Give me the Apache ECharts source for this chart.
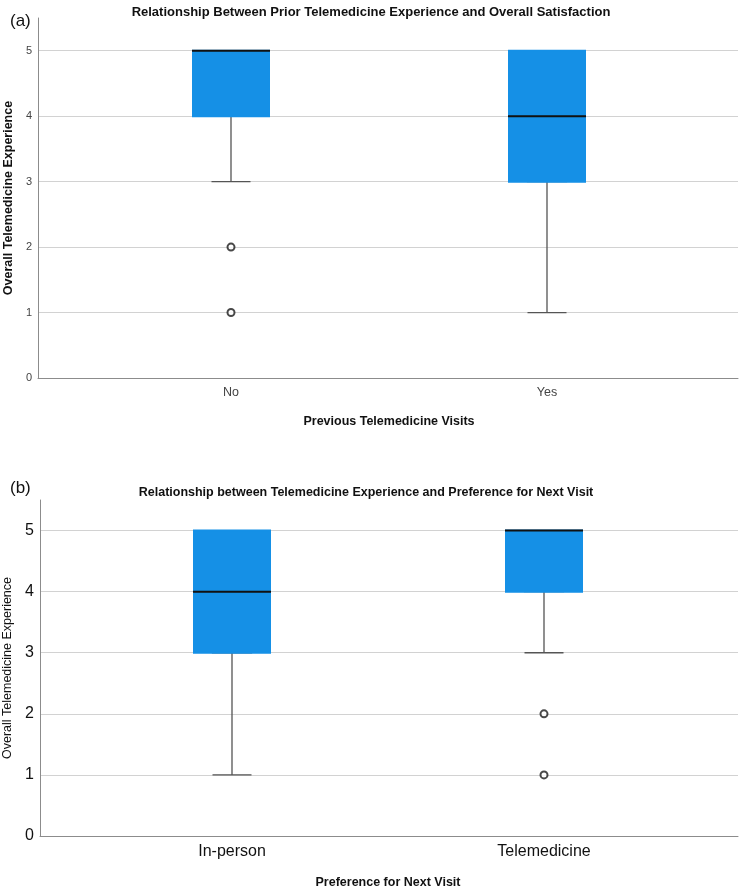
<!DOCTYPE html>
<html>
<head>
<meta charset="utf-8">
<script src="https://cdn.jsdelivr.net/npm/echarts@6/dist/echarts.min.js"></script>
<style>
html,body{margin:0;padding:0;background:#fff;}
#chart{width:740px;height:893px;}
</style>
</head>
<body>
<div id="chart"></div>
<script>
// ---- Data ----
const titleA = 'Relationship Between Prior Telemedicine Experience and Overall Satisfaction';
const titleB = 'Relationship between Telemedicine Experience and Preference for Next Visit';
const yName = 'Overall Telemedicine Experience';
const xNameA = 'Previous Telemedicine Visits';
const xNameB = 'Preference for Next Visit';
const catsA = ['No', 'Yes'];
const catsB = ['In-person', 'Telemedicine'];
// [min, Q1, median, Q3, max]
const boxA = [[3, 4, 5, 5, 5], [1, 3, 4, 5, 5]];
const boxB = [[1, 3, 4, 5, 5], [3, 4, 5, 5, 5]];
const outA = [['No', 2], ['No', 1]];
const outB = [['Telemedicine', 2], ['Telemedicine', 1]];
const yMin = 0, yMax = 5.5, yStep = 1;

const FONT = 'Liberation Sans, Arial, sans-serif';
const BLUE = '#1590e6';

const boxLayer = d => d.map(v => [v[1], v[1], v[2], v[3], v[3]]);
const medLayer = d => d.map(v => [v[2], v[2], v[2], v[2], v[2]]);

function panel(base, gridFrame, gridBox, cats, box, out, st) {
  const grids = [gridFrame, gridBox].map(g => Object.assign({ outerBoundsMode: 'none', containLabel: false }, g));
  const gF = base * 2, gB = base * 2 + 1;
  const xAxes = [
    { gridIndex: gF, type: 'value', min: 0, max: 1, axisLine: { show: true, onZero: false, lineStyle: { color: '#8c8c8c', width: 1 } },
      axisTick: { show: false }, axisLabel: { show: false }, splitLine: { show: false } },
    { gridIndex: gB, type: 'category', data: cats, boundaryGap: true, position: 'bottom',
      axisLine: { show: false }, axisTick: { show: false },
      axisLabel: { fontFamily: FONT, fontSize: st.xLabelSize, color: st.xLabelColor, margin: st.xLabelMargin },
      name: st.xName, nameLocation: 'middle', nameGap: st.xNameGap,
      nameTextStyle: { fontFamily: FONT, fontSize: st.xNameSize, fontWeight: st.xNameWeight, color: '#111' } },
    { gridIndex: gB, type: 'category', data: cats, boundaryGap: true, show: false },
    { gridIndex: gB, type: 'category', data: cats, boundaryGap: true, show: false }
  ];
  const yAxes = [
    { gridIndex: gF, type: 'value', min: yMin, max: yMax, interval: yStep,
      axisLine: { show: true, lineStyle: { color: '#8c8c8c', width: 1 } }, axisTick: { show: false },
      axisLabel: { fontFamily: FONT, fontSize: st.yLabelSize, color: st.yLabelColor, margin: st.yLabelMargin,
        formatter: v => Number.isInteger(v) ? String(v) : '' },
      splitLine: { show: true, showMinLine: false, showMaxLine: false, lineStyle: { color: '#d2d2d2', width: 1 } },
      name: yName, nameLocation: 'middle', nameGap: st.yNameGap, nameRotate: 90,
      nameTextStyle: { fontFamily: FONT, fontSize: st.yNameSize, fontWeight: st.yNameWeight, color: '#111' } },
    { gridIndex: gB, type: 'value', min: yMin, max: yMax, interval: yStep, show: false, splitLine: { show: false } }
  ];
  const xb = base * 4, yb = base * 2;
  const series = [
    { type: 'boxplot', xAxisIndex: xb + 1, yAxisIndex: yb + 1, data: box, boxWidth: [39, 39], z: 2,
      itemStyle: { color: 'rgba(0,0,0,0)', borderColor: '#555555', borderWidth: 1.3 }, silent: true },
    { type: 'boxplot', xAxisIndex: xb + 2, yAxisIndex: yb + 1, data: boxLayer(box), boxWidth: [76, 76], z: 3,
      itemStyle: { color: BLUE, borderColor: BLUE, borderWidth: 2 }, silent: true },
    { type: 'boxplot', xAxisIndex: xb + 3, yAxisIndex: yb + 1, data: medLayer(box), boxWidth: [78, 78], z: 4,
      itemStyle: { color: 'rgba(0,0,0,0)', borderColor: '#111111', borderWidth: 2 }, silent: true },
    { type: 'scatter', xAxisIndex: xb + 1, yAxisIndex: yb + 1, data: out, symbol: 'circle', symbolSize: 7, z: 5,
      itemStyle: { color: '#ffffff', borderColor: '#1a1a1a', borderWidth: 2 }, silent: true }
  ];
  return { grids, xAxes, yAxes, series };
}

const pA = panel(0,
  { left: 38, top: 18, width: 700, height: 360 },
  { left: 73, top: 18, width: 632, height: 360 },
  catsA, boxA, outA,
  { xName: xNameA, xLabelSize: 12.5, xLabelColor: '#444', xLabelMargin: 8, xNameGap: 37, xNameSize: 12.5, xNameWeight: 'bold',
    yLabelSize: 11, yLabelColor: '#444', yLabelMargin: 6, yNameGap: 18, yNameSize: 12.5, yNameWeight: 'bold' });
const pB = panel(1,
  { left: 40, top: 500, width: 698, height: 336 },
  { left: 76, top: 500, width: 624, height: 336 },
  catsB, boxB, outB,
  { xName: xNameB, xLabelSize: 16, xLabelColor: '#111', xLabelMargin: 8, xNameGap: 40, xNameSize: 12.5, xNameWeight: 'bold',
    yLabelSize: 16, yLabelColor: '#111', yLabelMargin: 6, yNameGap: 20, yNameSize: 12.5, yNameWeight: 'normal' });

const option = {
  animation: false,
  backgroundColor: '#ffffff',
  title: [
    { text: titleA, left: 366, top: 1, textAlign: 'center',
      textStyle: { fontFamily: FONT, fontSize: 13, fontWeight: 'bold', color: '#111' } },
    { text: titleB, left: 361, top: 481, textAlign: 'center',
      textStyle: { fontFamily: FONT, fontSize: 12.5, fontWeight: 'bold', color: '#111' } },
    { text: '(a)', left: 5, top: 8, textStyle: { fontFamily: FONT, fontSize: 17, fontWeight: 'normal', color: '#111' } },
    { text: '(b)', left: 5, top: 475, textStyle: { fontFamily: FONT, fontSize: 17, fontWeight: 'normal', color: '#111' } }
  ],
  grid: pA.grids.concat(pB.grids),
  xAxis: pA.xAxes.concat(pB.xAxes),
  yAxis: pA.yAxes.concat(pB.yAxes),
  series: pA.series.concat(pB.series)
};

const chart = echarts.init(document.getElementById('chart'), null, { renderer: 'canvas' });
chart.setOption(option);
</script>
</body>
</html>
